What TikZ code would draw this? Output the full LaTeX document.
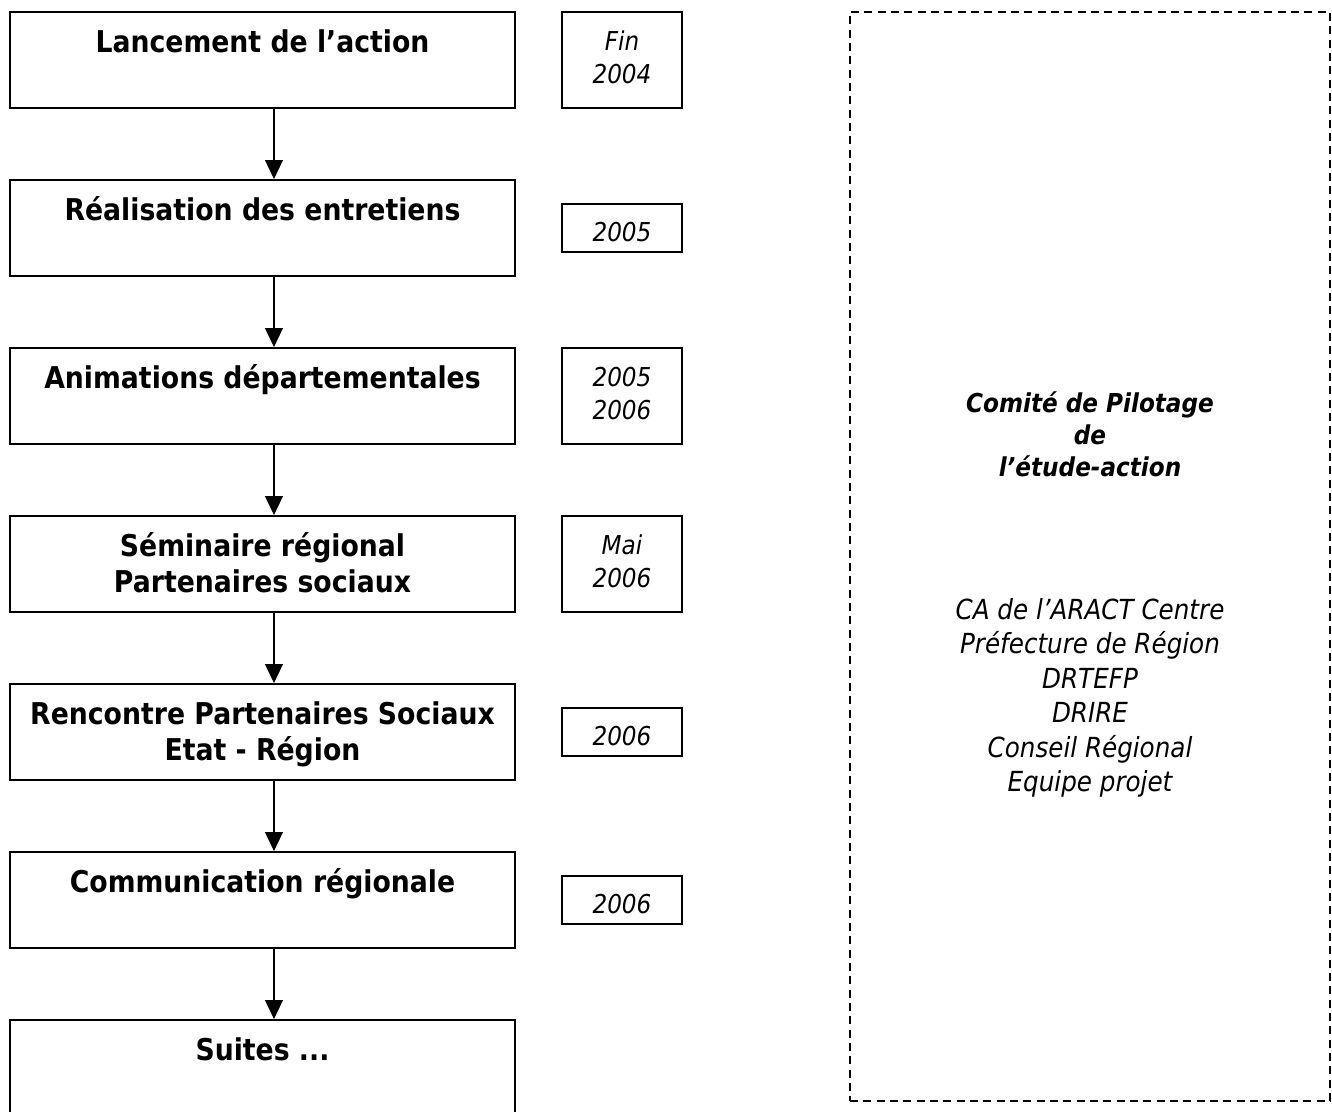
\documentclass[tikz,border=0pt]{standalone}
\usepackage{fontspec}
\setmainfont{DejaVu Sans}[FakeStretch=0.89]
\usetikzlibrary{arrows.meta}

% centred stack of lines whose baseline is the first line
\newcommand{\stack}[1]{\begin{tabular}[t]{@{}c@{}}#1\end{tabular}}

\begin{document}
\begin{tikzpicture}[x=0.75pt, y=-0.75pt,
  stepbox/.style={draw, line width=1.5pt, inner sep=0pt,
    minimum width=378.75pt, minimum height=72pt,
    text height=0pt, text depth=12pt,
    font=\bfseries\fontsize{22.5}{27}\selectfont},
  datebox/.style={draw, line width=1.5pt, inner sep=0pt,
    minimum width=90pt,
    font=\itshape\fontsize{19.5}{24.75}\selectfont},
  tall/.style={minimum height=72pt, text height=0pt, text depth=15pt},
  short/.style={minimum height=36pt, text height=19.5pt, text depth=0pt},
  flow/.style={line width=0.9pt,
    -{Triangle[width=13.5pt, length=14.25pt]}},
  committee/.style={draw, dashed, dash pattern=on 6pt off 4pt,
    line width=1.1pt, minimum width=360pt, minimum height=816.75pt}
]
\useasboundingbox (0,0) rectangle (1332,1111);

% main sequence of steps
\node[stepbox] (s1) at (262.5,  60) {\stack{Lancement de l’action}};
\node[stepbox] (s2) at (262.5, 228) {\stack{Réalisation des entretiens}};
\node[stepbox] (s3) at (262.5, 396) {\stack{Animations départementales}};
\node[stepbox] (s4) at (262.5, 564) {\stack{Séminaire régional\\Partenaires sociaux}};
\node[stepbox] (s5) at (262.5, 732) {\stack{Rencontre Partenaires Sociaux\\Etat - Région}};
\node[stepbox] (s6) at (262.5, 900) {\stack{Communication régionale}};
\node[stepbox] (s7) at (262.5,1068) {\stack{Suites ...}};

% dates beside each step
\node[datebox, tall]  (d1) at (622,  60) {\stack{Fin\\2004}};
\node[datebox, short] (d2) at (622, 228) {\stack{2005}};
\node[datebox, tall]  (d3) at (622, 396) {\stack{2005\\2006}};
\node[datebox, tall]  (d4) at (622, 564) {\stack{Mai\\2006}};
\node[datebox, short] (d5) at (622, 732) {\stack{2006}};
\node[datebox, short] (d6) at (622, 900) {\stack{2006}};

% arrows between steps
\foreach \a/\b in {s1/s2, s2/s3, s3/s4, s4/s5, s5/s6, s6/s7}
  \draw[flow] ([xshift=8.6pt]\a.south) -- ([xshift=8.6pt]\b.north);

% steering committee frame
\node[committee] (cp) at (1090, 556.5) {};
\node[font=\bfseries\itshape\fontsize{19.5}{24}\selectfont, anchor=base]
  (cptitle) at (1090, 412) {\stack{Comité de Pilotage\\de\\l’étude-action}};
\node[font=\itshape\fontsize{20.75}{25.9}\selectfont, anchor=base]
  (cpmembers) at (1090, 619) {\stack{CA de l’ARACT Centre\\Préfecture de Région\\DRTEFP\\DRIRE\\Conseil Régional\\Equipe projet}};
\end{tikzpicture}
\end{document}
